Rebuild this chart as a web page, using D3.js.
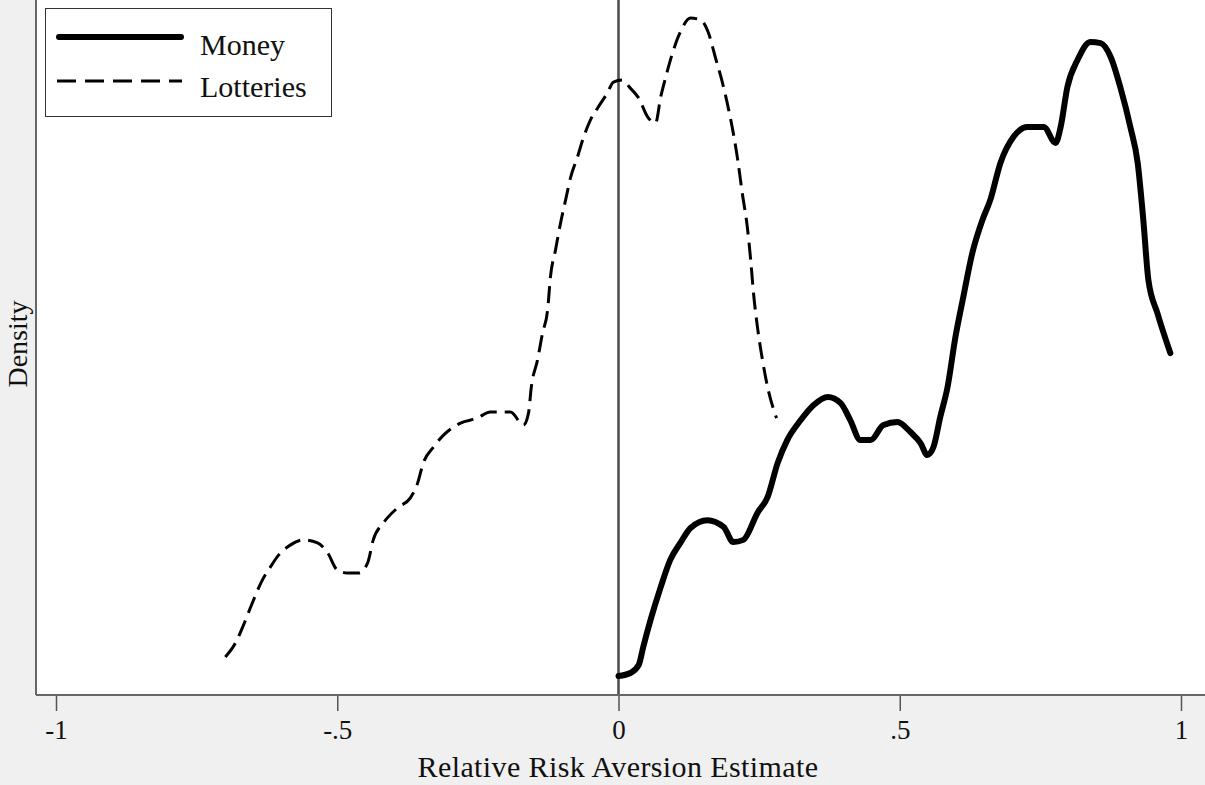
<!DOCTYPE html>
<html>
<head>
<meta charset="utf-8">
<script src="https://cdn.jsdelivr.net/npm/d3@7"></script>
<style>
  html, body { margin: 0; padding: 0; background: #f0f0f0; }
  svg { display: block; }
  text { font-family: "Liberation Serif", "Times New Roman", serif; fill: #111; }
</style>
</head>
<body>
<svg id="chart" width="1205" height="785"></svg>
<script>
// ---- Data ----
const moneyX = [0.000,0.021,0.036,0.044,0.057,0.075,0.092,0.110,0.128,0.158,0.187,0.204,0.222,0.247,0.265,0.283,0.300,0.324,0.347,0.372,0.395,0.412,0.430,0.448,0.471,0.496,0.519,0.537,0.549,0.560,0.572,0.585,0.599,0.613,0.629,0.647,0.661,0.679,0.702,0.727,0.756,0.777,0.786,0.798,0.816,0.839,0.857,0.875,0.892,0.910,0.923,0.933,0.942,0.958,0.981];
const moneyDensity = [0.068,0.079,0.108,0.173,0.270,0.388,0.486,0.547,0.601,0.629,0.604,0.550,0.558,0.655,0.712,0.835,0.917,0.989,1.043,1.072,1.050,0.989,0.917,0.917,0.971,0.982,0.946,0.906,0.863,0.892,1.000,1.108,1.288,1.432,1.590,1.709,1.781,1.914,2.007,2.043,2.043,1.986,2.043,2.187,2.284,2.349,2.345,2.295,2.187,2.043,1.914,1.709,1.493,1.374,1.230];

const lotteriesX = [-0.699,-0.681,-0.668,-0.651,-0.633,-0.619,-0.604,-0.583,-0.560,-0.535,-0.517,-0.500,-0.482,-0.462,-0.446,-0.436,-0.418,-0.393,-0.370,-0.357,-0.347,-0.329,-0.311,-0.281,-0.251,-0.228,-0.192,-0.169,-0.160,-0.155,-0.144,-0.135,-0.126,-0.121,-0.112,-0.103,-0.094,-0.085,-0.073,-0.062,-0.050,-0.036,-0.020,-0.009,0.007,0.021,0.036,0.052,0.066,0.075,0.084,0.096,0.110,0.128,0.146,0.160,0.172,0.185,0.196,0.204,0.212,0.220,0.229,0.235,0.240,0.247,0.256,0.265,0.276,0.281];
const lotteriesDensity = [0.137,0.187,0.245,0.331,0.414,0.460,0.504,0.540,0.558,0.547,0.511,0.450,0.439,0.439,0.475,0.558,0.619,0.673,0.709,0.763,0.835,0.892,0.935,0.978,0.996,1.018,1.018,0.971,1.014,1.108,1.205,1.302,1.385,1.504,1.601,1.698,1.781,1.863,1.935,2.007,2.068,2.115,2.165,2.205,2.212,2.183,2.147,2.079,2.058,2.151,2.223,2.309,2.385,2.435,2.428,2.381,2.295,2.201,2.104,2.022,1.924,1.806,1.683,1.565,1.446,1.324,1.205,1.108,1.025,0.996];

const xTicks = [-1, -0.5, 0, 0.5, 1];
const xTickLabels = ["-1", "-.5", "0", ".5", "1"];
const seriesNames = ["Money", "Lotteries"];
const xTitle = "Relative Risk Aversion Estimate";
const yTitle = "Density";

// ---- Layout ----
const svg = d3.select("#chart");
const W = 1205, H = 785;
const plot = { left: 36, right: 1205, top: 0, bottom: 695 };

const x = d3.scaleLinear().domain([-1, 1]).range([56, 1181]);
const y = d3.scaleLinear().domain([0, 2.5]).range([plot.bottom, plot.bottom - 2.5 * 278]);

// background
svg.append("rect").attr("width", W).attr("height", H).attr("fill", "#f0f0f0");
svg.append("rect")
  .attr("x", plot.left).attr("y", plot.top)
  .attr("width", plot.right - plot.left).attr("height", plot.bottom - plot.top)
  .attr("fill", "#ffffff");

// zero reference line
svg.append("line")
  .attr("x1", x(0)).attr("x2", x(0))
  .attr("y1", plot.top).attr("y2", plot.bottom)
  .attr("stroke", "#505050").attr("stroke-width", 2.6);

// curves
const line = d3.line().x(d => x(d[0])).y(d => y(d[1])).curve(d3.curveMonotoneX);
const moneyData = moneyX.map((v, i) => [v, moneyDensity[i]]);
const lotData = lotteriesX.map((v, i) => [v, lotteriesDensity[i]]);

svg.append("path").datum(lotData)
  .attr("d", line).attr("fill", "none")
  .attr("stroke", "#000").attr("stroke-width", 3)
  .attr("stroke-dasharray", "17,8")
  .attr("stroke-linejoin", "round");

svg.append("path").datum(moneyData)
  .attr("d", line).attr("fill", "none")
  .attr("stroke", "#000").attr("stroke-width", 6)
  .attr("stroke-linejoin", "round").attr("stroke-linecap", "round");

// x axis
const xAxis = d3.axisBottom(x)
  .tickValues(xTicks)
  .tickFormat((d, i) => xTickLabels[i])
  .tickSize(16).tickSizeOuter(0).tickPadding(9);
const gx = svg.append("g").attr("transform", `translate(0,${plot.bottom})`).call(xAxis);
gx.select(".domain").remove();
gx.selectAll(".tick line").attr("stroke", "#555").attr("stroke-width", 1.5);
gx.selectAll(".tick text")
  .attr("font-size", 27).attr("fill", "#111")
  .style("font-family", "'Liberation Serif', serif");

// axis lines
svg.append("line")
  .attr("x1", plot.left).attr("x2", plot.right)
  .attr("y1", plot.bottom).attr("y2", plot.bottom)
  .attr("stroke", "#666").attr("stroke-width", 2);
svg.append("line")
  .attr("x1", plot.left).attr("x2", plot.left)
  .attr("y1", plot.top).attr("y2", plot.bottom)
  .attr("stroke", "#666").attr("stroke-width", 2);

// axis titles
svg.append("text")
  .attr("x", 618).attr("y", 777)
  .attr("text-anchor", "middle").attr("font-size", 30)
  .attr("letter-spacing", 0.4)
  .text(xTitle);
svg.append("text")
  .attr("transform", "translate(27,344) rotate(-90)")
  .attr("text-anchor", "middle").attr("font-size", 28)
  .text(yTitle);

// legend
const lg = svg.append("g");
lg.append("rect")
  .attr("x", 45.5).attr("y", 8.5).attr("width", 286).attr("height", 108)
  .attr("fill", "#fff").attr("stroke", "#333").attr("stroke-width", 1);
lg.append("line")
  .attr("x1", 59).attr("x2", 181).attr("y1", 37).attr("y2", 37)
  .attr("stroke", "#000").attr("stroke-width", 6).attr("stroke-linecap", "round");
lg.append("line")
  .attr("x1", 57).attr("x2", 182).attr("y1", 81).attr("y2", 81)
  .attr("stroke", "#000").attr("stroke-width", 3).attr("stroke-dasharray", "19,9");
lg.append("text").attr("x", 200).attr("y", 55).attr("font-size", 30).text(seriesNames[0]);
lg.append("text").attr("x", 200).attr("y", 97).attr("font-size", 30).text(seriesNames[1]);
</script>
</body>
</html>
